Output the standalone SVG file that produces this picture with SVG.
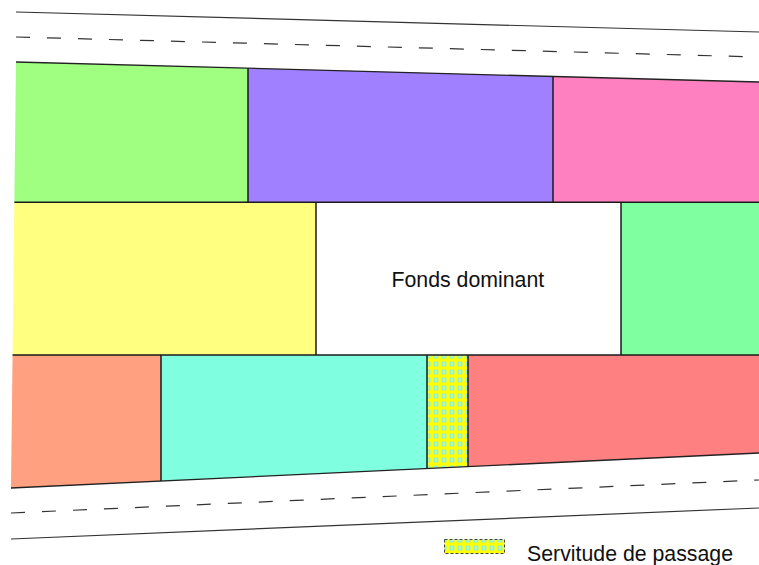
<svg xmlns="http://www.w3.org/2000/svg" width="759" height="565" viewBox="0 0 759 565">
<style>
.road{stroke:#333;stroke-width:1.2;fill:none}
.dash{stroke-dasharray:14 17}
.edge{stroke:#222;stroke-width:1.3;fill:none}
.div{stroke:#1a1a1a;stroke-width:1.5;fill:none}
.lbl{font-family:"Liberation Sans",Arial,sans-serif;font-size:21.3px;fill:#111}
</style>
<defs>
<pattern id="hatch" width="8" height="8" patternUnits="userSpaceOnUse">
<rect width="8" height="8" fill="#ffff00"/>
<circle cx="4" cy="4" r="3.1" fill="#78f0f8"/>
<path d="M4 0V8M0 4H8" stroke="#ffff40" stroke-width="0.6"/>
<circle cx="4" cy="4" r="3.1" fill="none" stroke="#ffff00" stroke-width="0.6"/>
</pattern>
</defs>
<rect width="759" height="565" fill="#ffffff"/>
<g id="parcel-green"><polygon points="16,62 248,68.2 248,202.3 14.35,202.3" fill="#a0ff80"/></g>
<g id="parcel-purple"><polygon points="248,68.2 553,76.5 553,202.3 248,202.3" fill="#a080ff"/></g>
<g id="parcel-pink"><polygon points="553,76.5 759,82 759,202.3 553,202.3" fill="#ff80c0"/></g>
<g id="parcel-yellow"><polygon points="14.35,202.3 316,202.3 316,355 12.56,355" fill="#ffff80"/></g>
<g id="fonds-dominant"><polygon points="316,202.3 621,202.3 621,355 316,355" fill="#ffffff"/>
<text class="lbl" x="391.5" y="287">Fonds dominant</text></g>
<g id="parcel-green2"><polygon points="621,202.3 759,202.3 759,355 621,355" fill="#80ffa0"/></g>
<g id="parcel-salmon"><polygon points="12.56,355 161,355 161,481 11,488" fill="#ffa080"/></g>
<g id="parcel-cyan"><polygon points="161,355 427,355 427,468.5 161,481" fill="#80ffe0"/></g>
<g id="servitude"><polygon points="427,355 468,355 468,466.6 427,468.5" fill="url(#hatch)"/></g>
<g id="parcel-red"><polygon points="468,355 759,355 759,453 468,466.6" fill="#ff8080"/></g>
<g id="connectors">
<line class="road" x1="16" y1="12" x2="759" y2="32"/>
<line class="road dash" x1="16" y1="37" x2="759" y2="57"/>
<line class="road dash" x1="11" y1="513" x2="759" y2="480"/>
<line class="road" x1="11" y1="539" x2="759" y2="508"/>
<line class="edge" x1="16" y1="62" x2="759" y2="82"/>
<line class="edge" x1="11" y1="488" x2="759" y2="453"/>
<line class="div" x1="14.35" y1="202.3" x2="759" y2="202.3"/>
<line class="div" x1="12.56" y1="355" x2="759" y2="355"/>
<line class="div" x1="248" y1="68.2" x2="248" y2="202.3"/>
<line class="div" x1="553" y1="76.5" x2="553" y2="202.3"/>
<line class="div" x1="316" y1="202.3" x2="316" y2="355"/>
<line class="div" x1="621" y1="202.3" x2="621" y2="355"/>
<line class="div" x1="161" y1="355" x2="161" y2="481"/>
<line class="div" x1="427" y1="355" x2="427" y2="468.5" stroke="#444"/>
<line class="div" x1="468" y1="355" x2="468" y2="466.6" stroke="#444"/>
</g>
<g id="legend">
<rect x="444.5" y="539.5" width="60" height="14" fill="url(#hatch)" stroke="#444" stroke-width="1" stroke-dasharray="3 2"/>
<text class="lbl" x="527" y="561">Servitude de passage</text>
</g>
</svg>
